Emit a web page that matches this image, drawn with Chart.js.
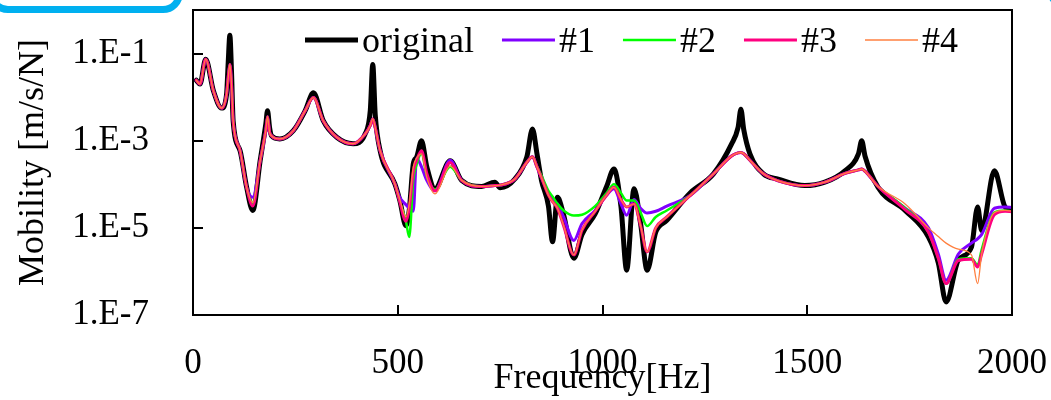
<!DOCTYPE html>
<html>
<head>
<meta charset="utf-8">
<script src="https://cdn.jsdelivr.net/npm/chart.js@4.4.1/dist/chart.umd.min.js"></script>
<style>
  body { margin: 0; background: #fff; }
  #wrap { position: relative; width: 1051px; height: 400px; overflow: hidden; }
  .deco { position: absolute; box-sizing: border-box; border: 7px solid #00b0f0; border-radius: 20px; }
  #decoLeft { left: -12px; top: -34px; width: 195px; height: 47px; }
  #decoRight { left: 1046px; top: -36px; width: 120px; height: 47px; border-radius: 26px; }
</style>
</head>
<body>
<div id="wrap">
  <canvas id="mobilityChart" width="1051" height="400"></canvas>
  <div class="deco" id="decoLeft"></div>
  <div class="deco" id="decoRight"></div>
</div>
<script>
// frequency [Hz]
const freq = [8, 17, 31, 50, 70, 82, 86, 90, 94, 98,
    115, 131, 146, 164, 178, 182, 187, 192, 212, 245,
    274, 294, 318, 351, 391, 420, 433, 439, 445, 457,
    493, 505, 520, 528, 538, 546, 558, 571, 591, 628,
    656, 705, 737, 750, 786, 815, 829, 840, 851, 868,
    878, 890, 905, 930, 950, 982, 1010, 1028, 1045, 1059,
    1077, 1093, 1109, 1130, 1157, 1214, 1271, 1315, 1331, 1338,
    1345, 1360, 1393, 1429, 1494, 1543, 1592, 1625, 1633, 1641,
    1673, 1739, 1796, 1820, 1839, 1869, 1901, 1916, 1926, 1957,
    1983, 2000];

// mobility [m/s/N]
const original = [2.45e-2, 2.0e-2, 7.41e-2, 1.38e-2, 5.62e-3, 1.17e-2, 6.31e-2, 2.63e-1, 3.98e-2, 2.88e-3,
    5.89e-4, 8.51e-5, 2.51e-5, 3.47e-4, 2.51e-3, 4.9e-3, 2.0e-3, 1.29e-3, 1.10e-3, 1.70e-3,
    4.9e-3, 1.26e-2, 2.88e-3, 1.20e-3, 8.51e-4, 1.41e-3, 5.01e-3, 5.62e-2, 3.98e-3, 5.89e-4,
    1.02e-4, 4.27e-5, 1.12e-5, 2.51e-5, 2.95e-4, 4.17e-4, 1.0e-3, 2.51e-4, 7.94e-5, 3.47e-4,
    1.23e-4, 8.91e-5, 1.12e-4, 8.32e-5, 1.32e-4, 4.17e-4, 1.86e-3, 5.01e-4, 1.23e-4, 3.16e-5,
    4.79e-6, 5.01e-5, 2.0e-5, 2.0e-6, 7.08e-6, 2.09e-5, 8.91e-5, 2.24e-4, 3.16e-5, 1.07e-6,
    7.94e-5, 1.26e-5, 1.07e-6, 7.94e-6, 1.48e-5, 6.31e-5, 1.74e-4, 8.32e-4, 2.0e-3, 5.25e-3,
    1.78e-3, 5.01e-4, 1.74e-4, 1.32e-4, 9.33e-5, 1.12e-4, 2.04e-4, 5.01e-4, 1.0e-3, 4.47e-4,
    8.51e-5, 2.51e-5, 6.17e-6, 1.58e-6, 2.0e-7, 1.82e-6, 3.63e-6, 3.02e-5, 8.71e-6, 2.04e-4,
    3.02e-5, 2.51e-5];

const mod1 = [2.45e-2, 2.0e-2, 7.41e-2, 1.38e-2, 5.62e-3, 1.17e-2, 2.82e-2, 5.62e-2, 2.0e-2, 2.88e-3,
    5.89e-4, 8.51e-5, 5.01e-5, 3.47e-4, 1.78e-3, 3.55e-3, 1.58e-3, 1.29e-3, 1.10e-3, 1.70e-3,
    4.9e-3, 9.77e-3, 2.88e-3, 1.20e-3, 8.51e-4, 1.41e-3, 2.24e-3, 3.16e-3, 2.0e-3, 5.89e-4,
    1.02e-4, 5.01e-5, 3.39e-5, 2.82e-5, 2.40e-5, 3.98e-4, 2.51e-4, 1.23e-4, 7.08e-5, 3.55e-4,
    1.23e-4, 8.91e-5, 9.33e-5, 9.55e-5, 1.32e-4, 3.16e-4, 4.27e-4, 2.51e-4, 1.41e-4, 6.31e-5,
    4.47e-5, 3.55e-5, 1.78e-5, 5.13e-6, 1.26e-5, 2.51e-5, 5.62e-5, 7.94e-5, 3.55e-5, 1.95e-5,
    4.47e-5, 2.82e-5, 2.19e-5, 2.40e-5, 3.16e-5, 5.5e-5, 1.74e-4, 4.47e-4, 5.25e-4, 5.37e-4,
    5.01e-4, 3.55e-4, 1.74e-4, 1.20e-4, 9.33e-5, 1.12e-4, 1.78e-4, 2.14e-4, 2.24e-4, 2.0e-4,
    8.91e-5, 2.82e-5, 1.0e-5, 2.51e-6, 6.31e-7, 2.51e-6, 4.47e-6, 5.62e-6, 7.08e-6, 2.82e-5,
    3.02e-5, 2.95e-5];

const mod2 = [2.45e-2, 2.0e-2, 7.41e-2, 1.38e-2, 5.62e-3, 1.17e-2, 2.82e-2, 5.62e-2, 2.0e-2, 2.88e-3,
    5.89e-4, 8.51e-5, 3.55e-5, 3.47e-4, 1.78e-3, 3.55e-3, 1.58e-3, 1.29e-3, 1.10e-3, 1.70e-3,
    4.9e-3, 9.77e-3, 2.88e-3, 1.20e-3, 8.51e-4, 1.41e-3, 2.24e-3, 3.16e-3, 2.0e-3, 5.89e-4,
    1.02e-4, 3.98e-5, 1.41e-5, 6.17e-6, 1.26e-4, 2.82e-4, 5.01e-4, 1.58e-4, 7.59e-5, 2.51e-4,
    1.23e-4, 8.91e-5, 9.33e-5, 9.55e-5, 1.32e-4, 3.16e-4, 4.27e-4, 2.51e-4, 1.58e-4, 7.08e-5,
    5.25e-5, 3.55e-5, 2.51e-5, 1.91e-5, 2.0e-5, 3.16e-5, 6.31e-5, 1.0e-4, 6.31e-5, 4.27e-5,
    4.27e-5, 2.24e-5, 1.10e-5, 1.78e-5, 2.51e-5, 5.5e-5, 1.74e-4, 4.47e-4, 5.25e-4, 5.37e-4,
    5.01e-4, 3.55e-4, 1.74e-4, 1.20e-4, 9.33e-5, 1.12e-4, 1.78e-4, 2.14e-4, 2.24e-4, 2.0e-4,
    8.91e-5, 2.82e-5, 7.94e-6, 2.0e-6, 5.25e-7, 1.91e-6, 2.0e-6, 1.41e-6, 3.16e-6, 2.24e-5,
    2.51e-5, 2.40e-5];

const mod3 = [2.45e-2, 2.0e-2, 7.41e-2, 1.38e-2, 5.62e-3, 1.17e-2, 2.82e-2, 5.62e-2, 2.0e-2, 2.88e-3,
    5.89e-4, 8.51e-5, 3.16e-5, 3.47e-4, 1.78e-3, 3.55e-3, 1.58e-3, 1.29e-3, 1.10e-3, 1.70e-3,
    4.9e-3, 9.77e-3, 2.88e-3, 1.20e-3, 8.51e-4, 1.41e-3, 2.24e-3, 3.16e-3, 2.0e-3, 5.89e-4,
    1.02e-4, 3.98e-5, 1.41e-5, 2.82e-5, 2.0e-4, 3.55e-4, 5.89e-4, 1.78e-4, 7.08e-5, 3.16e-4,
    1.23e-4, 8.91e-5, 9.33e-5, 9.55e-5, 1.32e-4, 3.16e-4, 4.27e-4, 2.51e-4, 1.41e-4, 5.62e-5,
    3.98e-5, 2.82e-5, 1.12e-5, 2.40e-6, 8.91e-6, 2.40e-5, 5.62e-5, 8.51e-5, 4.47e-5, 3.02e-5,
    3.55e-5, 1.12e-5, 2.82e-6, 1.0e-5, 1.78e-5, 5.5e-5, 1.74e-4, 4.47e-4, 5.25e-4, 5.37e-4,
    5.01e-4, 3.55e-4, 1.74e-4, 1.20e-4, 9.33e-5, 1.12e-4, 1.78e-4, 2.14e-4, 2.24e-4, 2.0e-4,
    8.91e-5, 2.63e-5, 7.94e-6, 2.0e-6, 5.25e-7, 1.78e-6, 1.91e-6, 1.26e-6, 2.51e-6, 2.0e-5,
    2.40e-5, 2.34e-5];

const mod4 = [2.45e-2, 2.0e-2, 7.41e-2, 1.38e-2, 5.62e-3, 1.17e-2, 2.82e-2, 5.62e-2, 2.0e-2, 2.88e-3,
    5.89e-4, 8.51e-5, 3.80e-5, 3.47e-4, 1.78e-3, 3.55e-3, 1.58e-3, 1.29e-3, 1.10e-3, 1.70e-3,
    4.9e-3, 9.77e-3, 2.88e-3, 1.20e-3, 8.51e-4, 1.41e-3, 2.24e-3, 3.16e-3, 2.0e-3, 5.89e-4,
    1.02e-4, 4.47e-5, 1.78e-5, 3.55e-5, 2.51e-4, 3.98e-4, 5.01e-4, 1.41e-4, 6.03e-5, 2.63e-4,
    1.23e-4, 8.91e-5, 9.33e-5, 9.55e-5, 1.32e-4, 3.16e-4, 4.27e-4, 2.51e-4, 1.41e-4, 5.62e-5,
    3.98e-5, 2.82e-5, 1.12e-5, 2.40e-6, 8.91e-6, 2.40e-5, 5.62e-5, 8.51e-5, 4.47e-5, 3.02e-5,
    3.55e-5, 1.12e-5, 2.82e-6, 1.0e-5, 1.78e-5, 5.5e-5, 1.74e-4, 4.47e-4, 5.25e-4, 5.37e-4,
    5.01e-4, 3.55e-4, 1.74e-4, 1.20e-4, 9.33e-5, 1.12e-4, 1.78e-4, 2.14e-4, 2.24e-4, 2.0e-4,
    8.91e-5, 3.55e-5, 1.0e-5, 6.31e-6, 4.47e-6, 3.24e-6, 2.40e-6, 5.25e-7, 2.51e-6, 2.24e-5,
    2.51e-5, 2.40e-5];

const seriesNames = ["original", "#1", "#2", "#3", "#4"];
const seriesValues = [original, mod1, mod2, mod3, mod4];
const seriesColors = ["#000000", "#8000ff", "#00ff00", "#ff0080", "#ff8040"];
const seriesWidths = [5, 3, 2.5, 3, 1.3];

const xTicks = [0, 500, 1000, 1500, 2000];
const xTickLabels = ["0", "500", "1000", "1500", "2000"];
const yTicks = [1e-7, 1e-5, 1e-3, 1e-1];
const yTickLabels = ["1.E-7", "1.E-5", "1.E-3", "1.E-1"];

const serif = "'Liberation Serif', 'Times New Roman', serif";

// frame, inward tick marks and the legend inside the plot
const framePlugin = {
    id: "frame",
    afterDatasetsDraw(chart) {
        const ctx = chart.ctx;
        const area = chart.chartArea;
        const xs = chart.scales.x;
        const ys = chart.scales.y;
        ctx.save();
        ctx.strokeStyle = "#000";
        ctx.lineWidth = 2;
        ctx.strokeRect(area.left, area.top, area.right - area.left, area.bottom - area.top);
        ctx.beginPath();
        xTicks.slice(1, -1).forEach((v) => {
            const px = Math.round(xs.getPixelForValue(v));
            ctx.moveTo(px, area.bottom);
            ctx.lineTo(px, area.bottom - 10);
        });
        yTicks.slice(1).forEach((v) => {
            const py = Math.round(ys.getPixelForValue(v));
            ctx.moveTo(area.left, py);
            ctx.lineTo(area.left + 10, py);
        });
        ctx.stroke();

        // legend
        ctx.font = "36px " + serif;
        ctx.textBaseline = "alphabetic";
        ctx.fillStyle = "#000";
        let x = 305;
        const yLine = 40;
        chart.data.datasets.forEach((ds) => {
            ctx.beginPath();
            ctx.strokeStyle = ds.borderColor;
            ctx.lineWidth = ds.borderWidth;
            ctx.moveTo(x, yLine);
            ctx.lineTo(x + 53, yLine);
            ctx.stroke();
            x += 57;
            ctx.fillText(ds.label, x, 52);
            x += ctx.measureText(ds.label).width + 28;
        });
        ctx.restore();
    }
};

const ctx = document.getElementById("mobilityChart").getContext("2d");
new Chart(ctx, {
    type: "line",
    data: {
        datasets: seriesNames.map((name, i) => ({
            label: name,
            data: freq.map((f, j) => ({ x: f, y: seriesValues[i][j] })),
            borderColor: seriesColors[i],
            borderWidth: seriesWidths[i],
            pointRadius: 0,
            fill: false,
            cubicInterpolationMode: "monotone",
            borderJoinStyle: "round",
            borderCapStyle: "round",
            order: seriesNames.length - i,
        })),
    },
    options: {
        responsive: false,
        animation: false,
        layout: { padding: { top: 10, right: 39, left: 0, bottom: 0 } },
        plugins: {
            legend: { display: false },
            tooltip: { enabled: false },
        },
        scales: {
            x: {
                type: "linear",
                min: 0,
                max: 2000,
                afterBuildTicks: (scale) => { scale.ticks = xTicks.map((v) => ({ value: v })); },
                afterFit: (scale) => {
                    scale.height = 85;
                    scale.paddingLeft = 0;
                    scale.paddingRight = 0;
                },
                ticks: {
                    color: "#000",
                    font: { family: serif, size: 35 },
                    padding: 20,
                    maxRotation: 0,
                    autoSkip: false,
                    callback: (value, index) => xTickLabels[index],
                },
                grid: { display: false },
                border: { display: false },
                title: {
                    display: true,
                    text: "Frequency[Hz]",
                    color: "#000",
                    font: { family: serif, size: 36 },
                    padding: 0,
                },
            },
            y: {
                type: "logarithmic",
                min: 1e-7,
                max: 1,
                afterBuildTicks: (scale) => { scale.ticks = yTicks.map((v) => ({ value: v })); },
                afterFit: (scale) => {
                    scale.width = 193;
                    scale.paddingTop = 0;
                    scale.paddingBottom = 0;
                },
                ticks: {
                    color: "#000",
                    font: { family: serif, size: 35 },
                    padding: 36,
                    callback: (value, index) => yTickLabels[index],
                },
                grid: { display: false },
                border: { display: false },
                title: {
                    display: true,
                    text: "Mobility [m/s/N]",
                    color: "#000",
                    font: { family: serif, size: 36 },
                    padding: { top: 12, bottom: 0 },
                },
            },
        },
    },
    plugins: [framePlugin],
});
</script>
</body>
</html>
